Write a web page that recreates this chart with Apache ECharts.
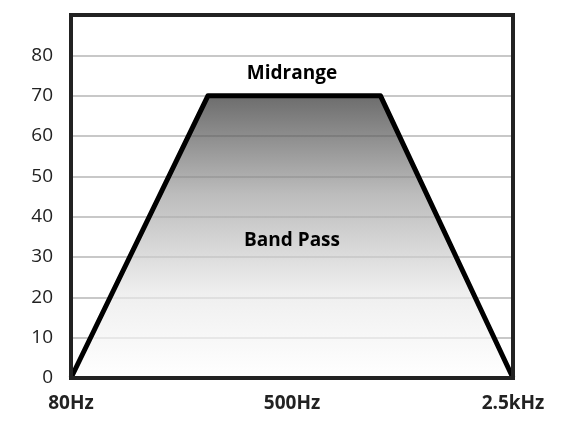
<!DOCTYPE html>
<html>
<head>
<meta charset="utf-8">
<script src="https://cdn.jsdelivr.net/npm/echarts@6/dist/echarts.min.js"></script>
<style>html,body{margin:0;padding:0;background:#fff}#c{width:575px;height:434px}</style>
</head>
<body>
<div id="c"></div>
<script>
// response shape: position along band (0..100) and level
const freqPos = [0, 31, 70, 100];
const levels = [0, 70, 70, 0];
const freqLabels = { 0: '80Hz', 50: '500Hz', 100: '2.5kHz' };
const yTicks = { min: 0, max: 90, interval: 10 };

const chart = echarts.init(document.getElementById('c'));
const font = '"Open Sans", "Noto Sans", sans-serif';

chart.setOption({
    animation: false,
    backgroundColor: '#fff',
    grid: { left: 71, right: 62, top: 15, bottom: 56 },
    xAxis: {
        type: 'value', min: 0, max: 100, interval: 50,
        axisLine: { show: false }, axisTick: { show: false }, splitLine: { show: false },
        axisLabel: { formatter: v => freqLabels[v] || '', color: '#222', fontSize: 19, fontWeight: 'bold', fontFamily: font, margin: 16 }
    },
    yAxis: {
        type: 'value', min: yTicks.min, max: yTicks.max, interval: yTicks.interval,
        axisLine: { show: false }, axisTick: { show: false },
        splitLine: { lineStyle: { color: '#c8c8c8', width: 2 } },
        axisLabel: { formatter: v => v === 90 ? '' : v, color: '#222', fontSize: 19, fontFamily: font, margin: 18 }
    },
    series: [{
        type: 'line',
        data: freqPos.map((x, i) => [x, levels[i]]),
        symbol: 'none',
        lineStyle: { color: '#000', width: 5, join: 'round' },
        areaStyle: {
            color: new echarts.graphic.LinearGradient(0, 0, 0, 1, [
                { offset: 0, color: '#2e2e2e' },
                { offset: 0.35, color: '#a0a0a0' },
                { offset: 0.7, color: '#e8e8e8' },
                { offset: 1, color: '#ffffff' }
            ])
        },
        markPoint: {
            symbolSize: 0,
            label: { show: true, color: '#000', fontSize: 19, fontWeight: 'bold', fontFamily: font },
            data: [
                { coord: [50, 75.5], value: 'Midrange', label: { formatter: 'Midrange' } },
                { coord: [50, 34], value: 'Band Pass', label: { formatter: 'Band Pass' } }
            ]
        }
    }]
});

// frame around the plot area
const tl = chart.convertToPixel({ gridIndex: 0 }, [0, 90]);
const br = chart.convertToPixel({ gridIndex: 0 }, [100, 0]);
chart.setOption({
    graphic: [{
        type: 'rect', z: 100,
        shape: { x: tl[0], y: tl[1], width: br[0] - tl[0], height: br[1] - tl[1] },
        style: { fill: 'none', stroke: '#222', lineWidth: 4 }
    }]
});
window.addEventListener('resize', () => chart.resize());
</script>
</body>
</html>
